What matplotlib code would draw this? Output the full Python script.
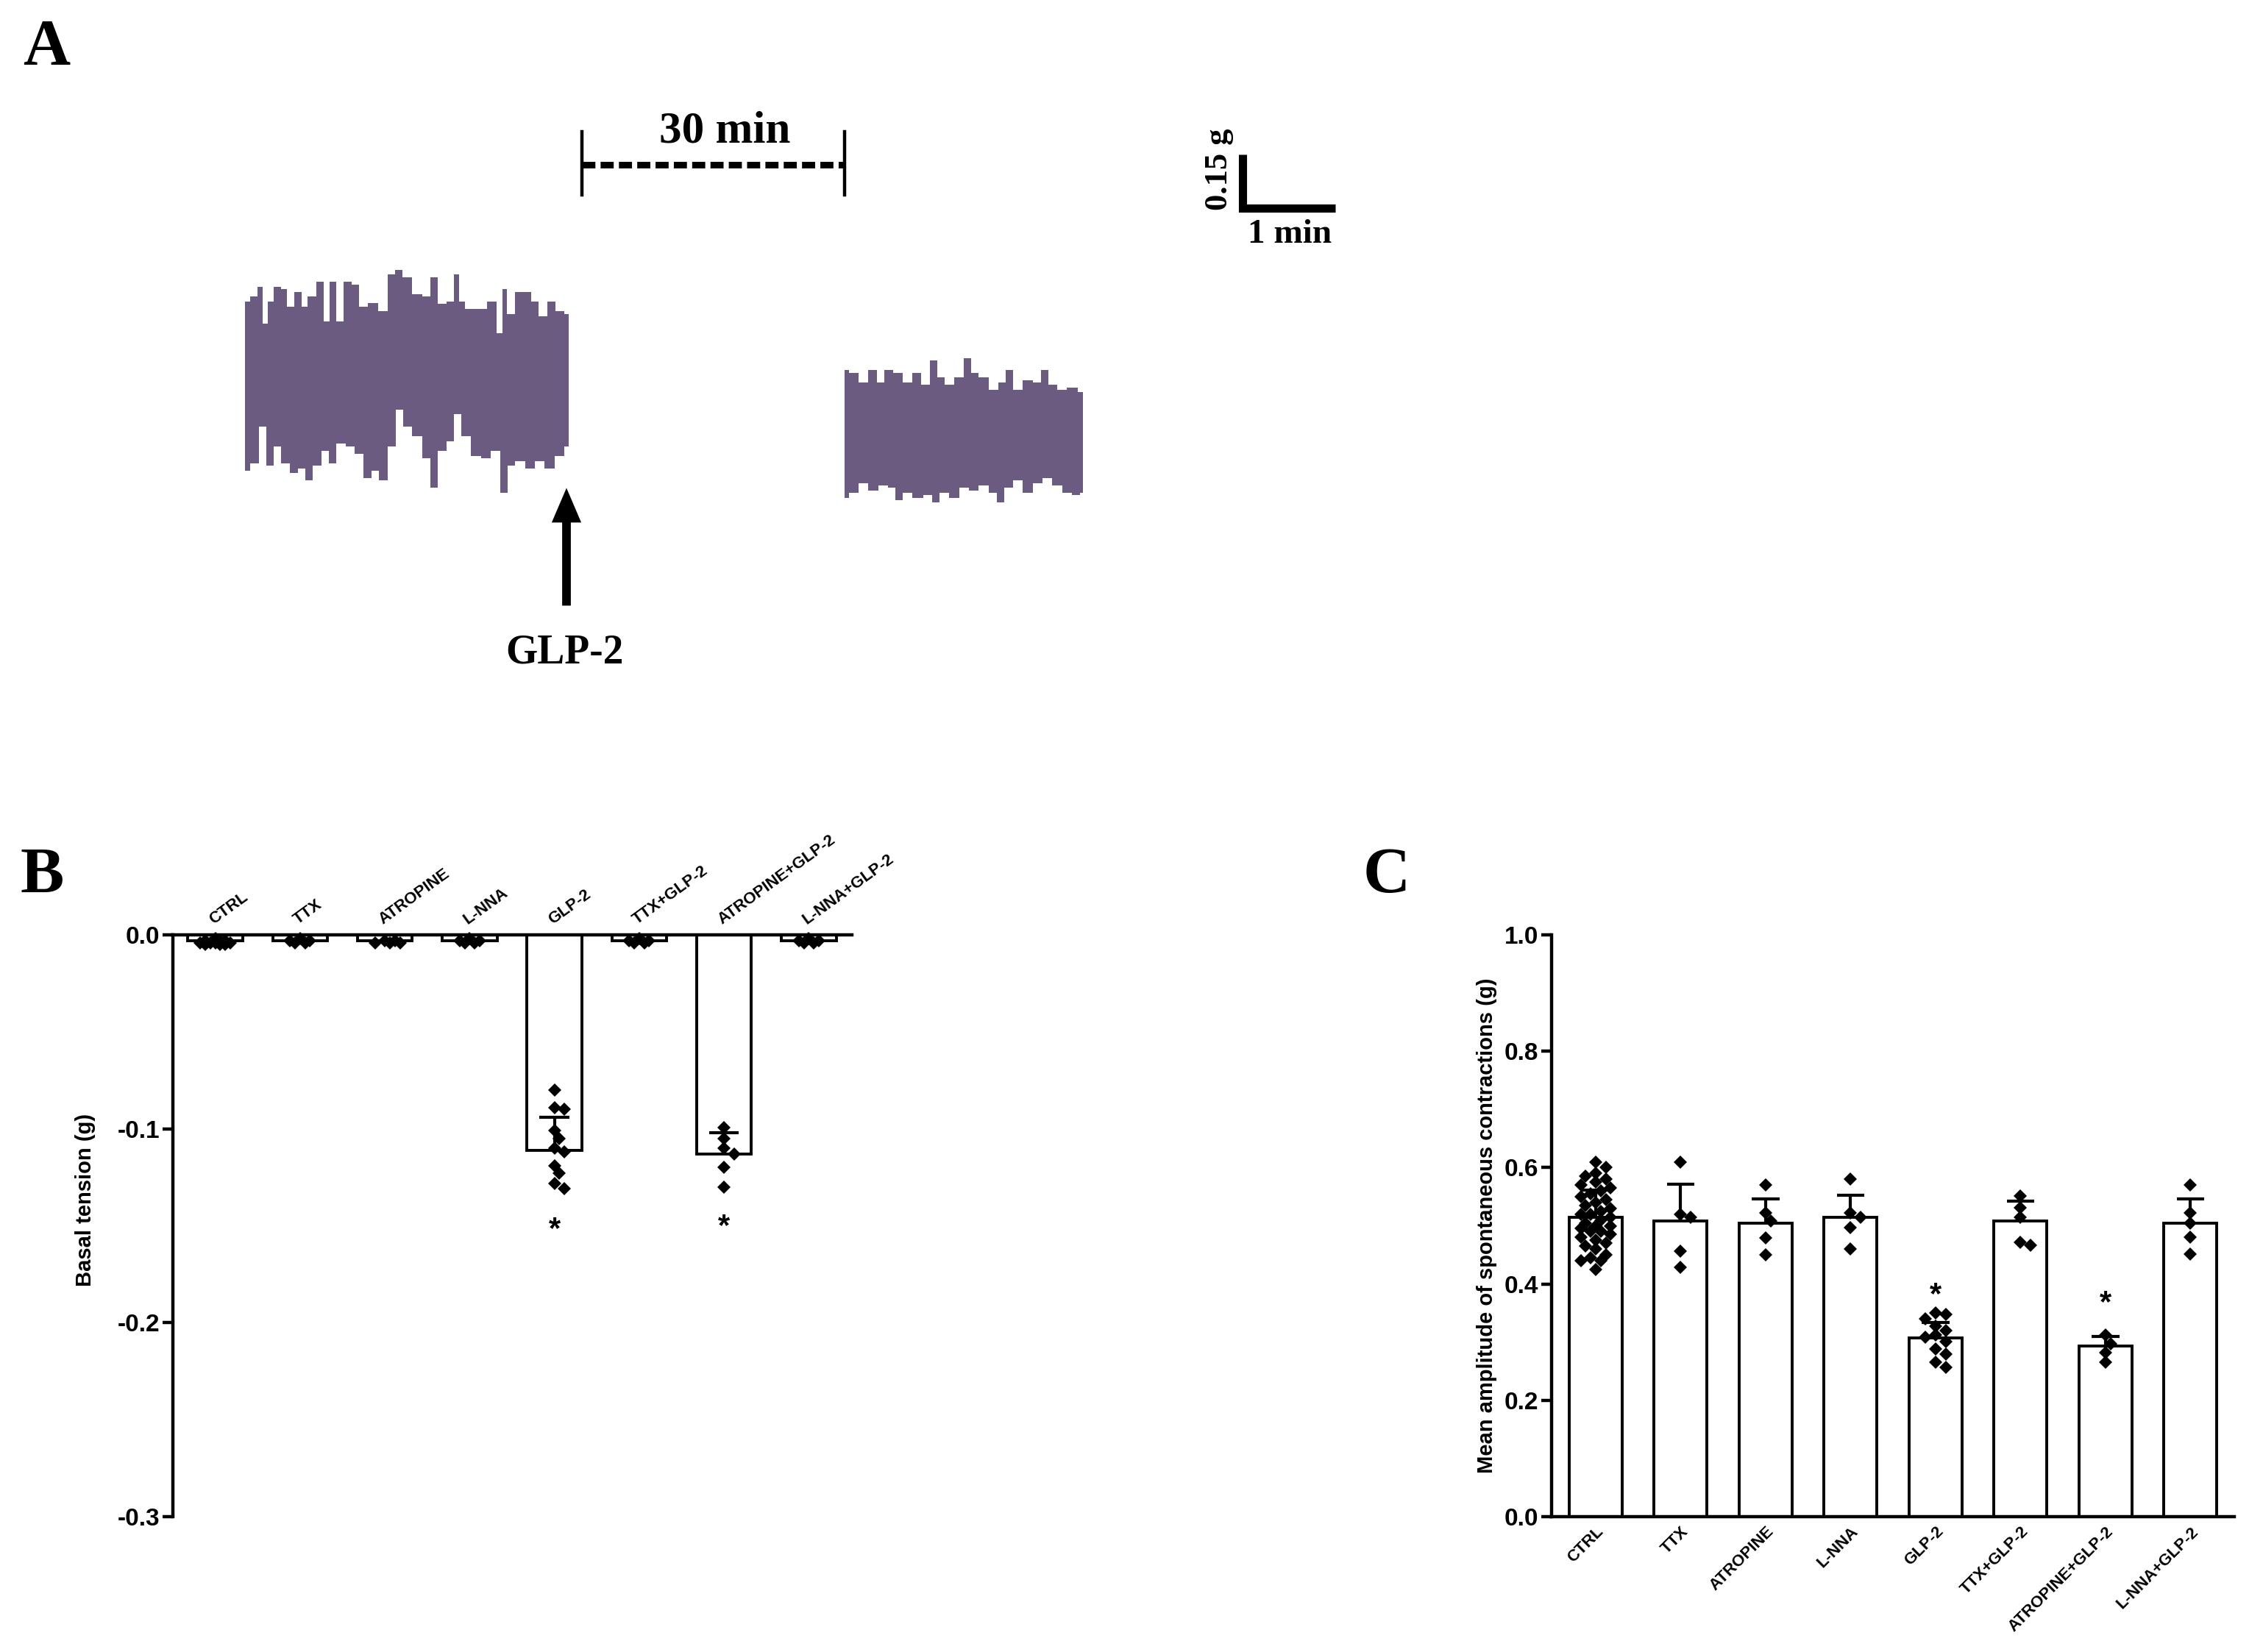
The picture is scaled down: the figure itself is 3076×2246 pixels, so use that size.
import numpy as np
import matplotlib
matplotlib.use('Agg')
import matplotlib.pyplot as plt
from matplotlib.transforms import offset_copy

plt.rcParams['font.family'] = ['Liberation Sans', 'DejaVu Sans']
plt.rcParams['axes.unicode_minus'] = False

groups = ['CTRL', 'TTX', 'ATROPINE', 'L-NNA', 'GLP-2', 'TTX+GLP-2',
          'ATROPINE+GLP-2', 'L-NNA+GLP-2']

# panel B: basal tension (g)
basal_mean = [-0.003, -0.003, -0.003, -0.003, -0.111, -0.003, -0.113, -0.003]
basal_err = [0, 0, 0, 0, 0.017, 0, 0.011, 0]
basal_points = [
    [-0.002, -0.003, -0.003, -0.003, -0.004, -0.004, -0.004, -0.004, -0.005, -0.005, -0.005],
    [-0.002, -0.003, -0.003, -0.004, -0.004],
    [-0.003, -0.003, -0.004, -0.004, -0.004],
    [-0.002, -0.003, -0.003, -0.004, -0.004],
    [-0.080, -0.089, -0.090, -0.101, -0.105, -0.110, -0.112, -0.119, -0.123, -0.128, -0.131],
    [-0.002, -0.003, -0.003, -0.004, -0.004],
    [-0.0995, -0.105, -0.110, -0.113, -0.120, -0.130],
    [-0.002, -0.003, -0.003, -0.004, -0.004],
]
basal_star = {4: -0.148, 6: -0.1465}

# panel C: mean amplitude of spontaneous contractions (g)
amp_mean = [0.515, 0.508, 0.505, 0.514, 0.307, 0.508, 0.293, 0.505]
amp_err = [0.046, 0.063, 0.041, 0.039, 0.027, 0.034, 0.017, 0.041]
amp_points = [
    [0.61, 0.60, 0.59, 0.585, 0.58, 0.575, 0.57, 0.565, 0.56, 0.555, 0.55, 0.545,
     0.54, 0.535, 0.53, 0.525, 0.52, 0.52, 0.515, 0.51, 0.505, 0.50, 0.50, 0.495,
     0.49, 0.49, 0.485, 0.48, 0.475, 0.47, 0.465, 0.46, 0.45, 0.445, 0.44, 0.44, 0.425],
    [0.61, 0.52, 0.515, 0.457, 0.428],
    [0.57, 0.522, 0.508, 0.479, 0.45],
    [0.58, 0.522, 0.515, 0.497, 0.46],
    [0.35, 0.348, 0.34, 0.328, 0.32, 0.312, 0.308, 0.301, 0.288, 0.279, 0.266, 0.257],
    [0.551, 0.531, 0.515, 0.472, 0.466],
    [0.312, 0.297, 0.282, 0.266],
    [0.57, 0.522, 0.505, 0.481, 0.451],
]
amp_star = {4: 0.395, 6: 0.38}

# panel A: recording envelopes (figure pixels, y down)
pre_top_x = [333, 347, 353, 360, 367, 377, 387, 393, 407, 413, 423, 437, 443, 453,
             460, 473, 483, 493, 507, 520, 533, 540, 553, 567, 580, 590, 600, 613,
             620, 627, 637, 653, 670, 680, 685, 693, 707, 717, 727, 737, 750, 760, 773]
pre_top = [410, 403, 390, 440, 410, 390, 393, 417, 397, 417, 403, 383, 437, 383,
           437, 383, 387, 417, 412, 423, 373, 367, 377, 400, 403, 377, 413, 410,
           373, 410, 420, 420, 410, 453, 393, 427, 397, 397, 410, 430, 410, 423, 427]
pre_bot_x = [333, 347, 357, 367, 377, 387, 400, 410, 420, 430, 443, 450, 463, 477,
             487, 500, 510, 520, 533, 543, 553, 567, 580, 590, 600, 613, 620, 633,
             647, 660, 673, 687, 693, 707, 720, 733, 747, 760, 773]
pre_bot = [640, 630, 580, 633, 607, 630, 643, 637, 653, 633, 613, 630, 603, 607,
           617, 650, 640, 653, 607, 557, 580, 593, 623, 663, 613, 600, 563, 593,
           620, 623, 613, 670, 633, 627, 637, 627, 637, 620, 607]
post_top_x = [1148, 1160, 1173, 1187, 1197, 1207, 1220, 1233, 1247, 1257, 1270, 1277,
              1290, 1303, 1317, 1323, 1337, 1350, 1363, 1370, 1383, 1397, 1410, 1420,
              1430, 1443, 1457, 1472]
post_top = [503, 507, 520, 503, 520, 503, 507, 520, 507, 523, 490, 513, 523, 513,
            487, 507, 513, 530, 520, 503, 530, 517, 520, 503, 523, 530, 527, 533]
post_bot_x = [1148, 1160, 1173, 1187, 1200, 1213, 1220, 1233, 1247, 1263, 1270, 1283,
              1297, 1310, 1323, 1337, 1350, 1360, 1370, 1383, 1397, 1410, 1423, 1437,
              1450, 1463, 1472]
post_bot = [677, 670, 657, 667, 660, 663, 680, 670, 677, 673, 683, 670, 677, 663,
            667, 660, 670, 683, 663, 653, 670, 657, 650, 660, 670, 673, 670]


def swarm_offsets(vals, ypx, xpx, diam=17.0, max_off=22.0):
    # spread overlapping points sideways, like a scatter dot plot
    vals = np.asarray(vals, dtype=float)
    order = np.argsort(vals)[::-1]
    step = diam * 0.4
    cands = [0.0]
    k = 1
    while k * step <= max_off:
        cands += [k * step, -k * step]
        k += 1
    placed = []
    offs = np.zeros(len(vals))
    for i in order:
        yp = vals[i] * ypx
        best, best_d = 0.0, -1.0
        for c in cands:
            d = min([np.hypot(c - px, yp - py) for px, py in placed], default=1e9)
            if d >= 0.7 * diam:
                best = c
                break
            if d > best_d:
                best, best_d = c, d
        placed.append((best, yp))
        offs[i] = best / xpx
    return offs


fig = plt.figure(figsize=(15.38, 11.23), dpi=200)

# ---- panel A (drawn on a pixel canvas) ----
canvas = fig.add_axes([0, 0, 1, 1])
canvas.set_xlim(0, 3076)
canvas.set_ylim(2246, 0)
canvas.axis('off')

trace_col = '#6b5b80'
canvas.fill_between(pre_top_x, pre_top, 530, step='mid', color=trace_col, lw=0)
canvas.fill_between(pre_bot_x, 505, pre_bot, step='mid', color=trace_col, lw=0)
canvas.fill_between(post_top_x, post_top, 600, step='mid', color=trace_col, lw=0)
canvas.fill_between(post_bot_x, 580, post_bot, step='mid', color=trace_col, lw=0)

serif = 'Liberation Serif'
canvas.text(63, 87, 'A', ha='center', va='baseline', fontsize=32, fontweight='bold', family=serif)
canvas.text(57, 1213, 'B', ha='center', va='baseline', fontsize=32, fontweight='bold', family=serif)
canvas.text(1885, 1213, 'C', ha='center', va='baseline', fontsize=32, fontweight='bold', family=serif)

canvas.text(985, 193, '30 min', ha='center', va='baseline', fontsize=22, fontweight='bold', family=serif)
canvas.plot([791, 1148], [224, 224], color='black', lw=3.2, ls=(0, (2.0, 0.8)),
            dash_capstyle='butt')
canvas.plot([791, 791], [179, 265], color='black', lw=1.6)
canvas.plot([1148, 1148], [179, 265], color='black', lw=1.6)

canvas.plot([1689, 1689, 1815], [210, 283, 283], color='black', lw=4,
            solid_joinstyle='miter', solid_capstyle='butt')
canvas.text(1657, 230, '0.15 g', rotation=90, ha='center', va='center', fontsize=16,
            fontweight='bold', family=serif)
canvas.text(1753, 330, '1 min', ha='center', va='baseline', fontsize=17,
            fontweight='bold', family=serif)

canvas.arrow(770, 822, 0, -155, width=9, head_width=36, head_length=42,
             length_includes_head=True, fc='black', ec='black')
canvas.text(767, 901, 'GLP-2', ha='center', va='baseline', fontsize=20,
            fontweight='bold', family=serif)

x = np.arange(len(groups))
lw_axis = 1.6
lw_bar = 1.4
ms = 4.6

# ---- panel B ----
axB = fig.add_axes([0.0764, 0.0819, 0.3001, 0.3522])
axB.set_facecolor('none')
axB.bar(x, basal_mean, width=0.647, color='white', edgecolor='black', lw=lw_bar, zorder=2)
for i, pts in enumerate(basal_points):
    offs = swarm_offsets(pts, 791 / 0.3, 115.2)
    axB.plot(i + offs, pts, 'D', ms=ms, color='black', mew=0, zorder=3, clip_on=False)
for i in range(len(groups)):
    if basal_err[i] > 0:
        top = basal_mean[i] + basal_err[i]
        axB.vlines(i, basal_mean[i], top, color='black', lw=1.5, zorder=4)
        axB.hlines(top, i - 0.175, i + 0.175, color='black', lw=1.5, zorder=4)
star_tr = offset_copy(axB.transData, fig=fig, x=0, y=-4, units='points')
for i, yv in basal_star.items():
    axB.text(i, yv, '*', ha='center', va='center', fontsize=15, fontweight='bold',
             transform=star_tr)
axB.set_xlim(-0.5, 7.51)
axB.set_ylim(-0.3, 0)
yt = [0.0, -0.1, -0.2, -0.3]
axB.set_yticks(yt, [f'{abs(t):.1f}' if t == 0 else f'{t:.1f}' for t in yt])
axB.xaxis.set_ticks_position('top')
axB.set_xticks(x, groups, rotation=36, ha='left', va='bottom', rotation_mode='anchor',
               fontsize=8, fontweight='bold')
axB.tick_params(axis='x', length=0, pad=3.5)
axB.tick_params(axis='y', direction='out', length=5, width=lw_axis, pad=1.5, labelsize=12)
for lab in axB.get_yticklabels():
    lab.set_fontweight('bold')
axB.spines['bottom'].set_visible(False)
axB.spines['right'].set_visible(False)
axB.spines['left'].set_linewidth(lw_axis)
axB.spines['top'].set_linewidth(lw_axis)
axB.set_ylabel('Basal tension (g)', fontsize=10.5, fontweight='bold')
axB.yaxis.set_label_coords(-0.114, 0.544)

# ---- panel C ----
axC = fig.add_axes([0.6856, 0.0819, 0.3017, 0.3522])
axC.set_facecolor('none')
axC.bar(x, amp_mean, width=0.624, color='white', edgecolor='black', lw=lw_bar, zorder=2)
for i, pts in enumerate(amp_points):
    offs = swarm_offsets(pts, 791 / 1.0, 115.4)
    axC.plot(i + offs, pts, 'D', ms=ms, color='black', mew=0, zorder=3)
for i in range(len(groups)):
    top = amp_mean[i] + amp_err[i]
    axC.vlines(i, amp_mean[i], top, color='black', lw=1.5, zorder=4)
    axC.hlines(top, i - 0.163, i + 0.163, color='black', lw=1.5, zorder=4)
star_tr = offset_copy(axC.transData, fig=fig, x=0, y=-4, units='points')
for i, yv in amp_star.items():
    axC.text(i, yv, '*', ha='center', va='center', fontsize=15, fontweight='bold',
             transform=star_tr)
axC.set_xlim(-0.52, 7.515)
axC.set_ylim(0, 1.0)
yt = [0.0, 0.2, 0.4, 0.6, 0.8, 1.0]
axC.set_yticks(yt, [f'{t:.1f}' for t in yt])
axC.set_xticks(x, groups, rotation=45, ha='right', va='top', rotation_mode='anchor',
               fontsize=8, fontweight='bold')
axC.tick_params(axis='x', length=0, pad=3.5)
axC.tick_params(axis='y', direction='out', length=5, width=lw_axis, pad=1.5, labelsize=12)
for lab in axC.get_yticklabels():
    lab.set_fontweight('bold')
axC.spines['top'].set_visible(False)
axC.spines['right'].set_visible(False)
axC.spines['left'].set_linewidth(lw_axis)
axC.spines['bottom'].set_linewidth(lw_axis)
axC.set_ylabel('Mean amplitude of spontaneous contractions (g)', fontsize=10.5,
               fontweight='bold')
axC.yaxis.set_label_coords(-0.080, 0.5)

fig.savefig('out.png', dpi=200)
